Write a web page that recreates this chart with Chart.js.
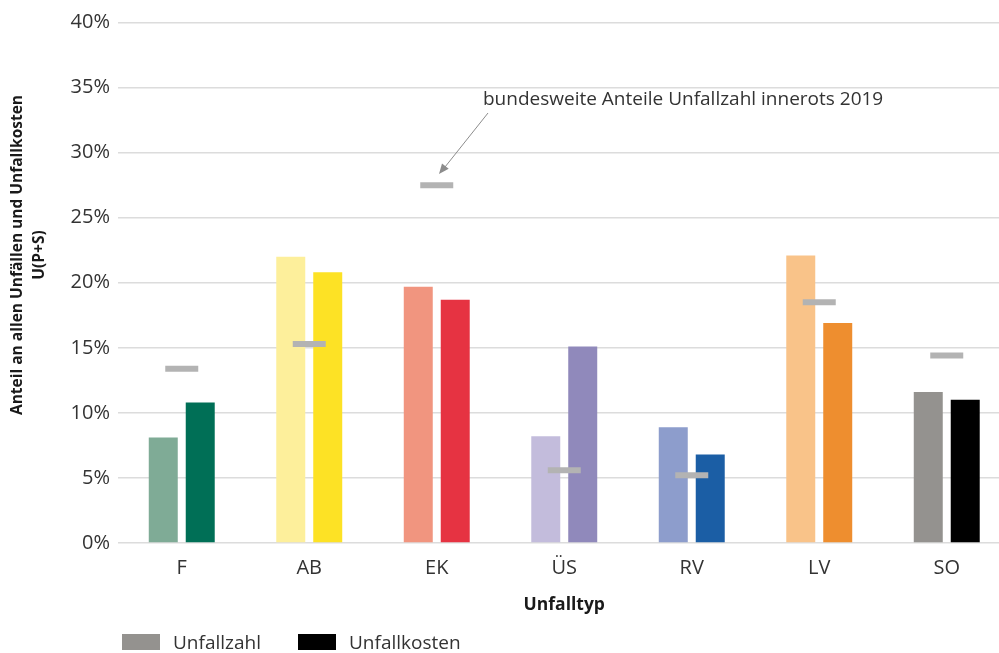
<!DOCTYPE html>
<html>
<head>
<meta charset="utf-8">
<script src="https://cdn.jsdelivr.net/npm/chart.js@4"></script>
<style>
html, body { margin: 0; padding: 0; background: #fff; overflow: hidden; width: 999px; height: 653px; }
#wrap { position: relative; width: 1033px; height: 653px; }
.leg { position: absolute; top: 629px; display: flex; align-items: center; font: 19px "Open Sans", sans-serif; color: #333; }
.leg span.box { display: inline-block; width: 38px; height: 16px; margin-right: 13px; }
</style>
</head>
<body>
<div id="wrap">
  <canvas id="chart1" width="1033" height="653"></canvas>
  <div class="leg" style="left:122px"><span class="box" style="background:#94928f"></span>Unfallzahl</div>
  <div class="leg" style="left:298px"><span class="box" style="background:#000"></span>Unfallkosten</div>
</div>
<script>
const categories = ['F', 'AB', 'EK', 'ÜS', 'RV', 'LV', 'SO']
const unfallzahl = [8.1, 22.0, 19.7, 8.2, 8.9, 22.1, 11.6]
const unfallkosten = [10.8, 20.8, 18.7, 15.1, 6.8, 16.9, 11.0]
const bundesweit = [13.4, 15.3, 27.5, 5.6, 5.2, 18.5, 14.4]

const lightColors = ['#7fab96', '#fdef9b', '#f1957f', '#c3bcdc', '#8d9dcc', '#f9c389', '#94928f']
const darkColors = ['#006f56', '#fde225', '#e63342', '#9089bb', '#1b5ea5', '#ee8e2f', '#000000']

const fontName = '"Open Sans", sans-serif'

// y title and the arrow note, drawn by hand
const extras = {
    id: 'extras',
    afterDraw(chart) {
        const ctx = chart.ctx
        ctx.save()
        ctx.fillStyle = '#1a1a1a'
        ctx.font = 'bold 15.5px ' + fontName
        ctx.textAlign = 'center'
        ctx.textBaseline = 'middle'
        ctx.translate(0, 255)
        ctx.rotate(-Math.PI / 2)
        ctx.fillText('Anteil an allen Unfällen und Unfallkosten', 0, 18)
        ctx.fillText('U(P+S)', 0, 40)
        ctx.restore()

        ctx.save()
        ctx.fillStyle = '#333'
        ctx.font = '19px ' + fontName
        ctx.textBaseline = 'middle'
        ctx.fillText('bundesweite Anteile Unfallzahl innerots 2019', 483, 100)
        ctx.strokeStyle = '#8c8c8c'
        ctx.fillStyle = '#8c8c8c'
        ctx.lineWidth = 1
        ctx.beginPath()
        ctx.moveTo(488, 113)
        ctx.lineTo(445, 167)
        ctx.stroke()
        const ang = Math.atan2(174 - 113, 439 - 488)
        ctx.beginPath()
        ctx.moveTo(439, 174)
        ctx.lineTo(439 - 11 * Math.cos(ang - 0.4), 174 - 11 * Math.sin(ang - 0.4))
        ctx.lineTo(439 - 11 * Math.cos(ang + 0.4), 174 - 11 * Math.sin(ang + 0.4))
        ctx.closePath()
        ctx.fill()
        ctx.restore()
    }
}

const unfallChart = new Chart(
    document.getElementById('chart1'),
    {
        type: 'bar',
        data: {
            labels: categories,
            datasets: [
                {
                    type: 'line',
                    label: 'bundesweit',
                    data: bundesweit,
                    showLine: false,
                    pointStyle: 'line',
                    pointRadius: 16.5,
                    pointHoverRadius: 16.5,
                    pointBorderWidth: 6,
                    pointHoverBorderWidth: 6,
                    borderColor: '#b3b3b3',
                    order: 0
                },
                {
                    label: 'Unfallzahl',
                    data: unfallzahl,
                    backgroundColor: lightColors,
                    categoryPercentage: 0.58,
                    barPercentage: 0.784,
                    order: 1
                },
                {
                    label: 'Unfallkosten',
                    data: unfallkosten,
                    backgroundColor: darkColors,
                    categoryPercentage: 0.58,
                    barPercentage: 0.784,
                    order: 1
                }
            ]
        },
        options: {
            responsive: false,
            animation: false,
            layout: {
                padding: { top: 22, right: 0, bottom: 33, left: 0 }
            },
            scales: {
                x: {
                    grid: { display: false },
                    border: { display: false },
                    ticks: { color: '#333', font: { family: fontName, size: 20 }, padding: 5 },
                    title: {
                        display: true,
                        text: 'Unfalltyp',
                        color: '#1a1a1a',
                        font: { family: fontName, size: 17.5, weight: 'bold' },
                        padding: { top: 4, bottom: 4 }
                    },
                    afterFit: scale => { scale.height = 77 }
                },
                y: {
                    min: 0,
                    max: 40,
                    ticks: {
                        stepSize: 5,
                        color: '#333',
                        font: { family: fontName, size: 20 },
                        padding: 8,
                        callback: v => v + '%'
                    },
                    grid: { color: '#dcdcdc', lineWidth: 1.5, drawTicks: false },
                    border: { display: false },
                    afterFit: scale => { scale.width = 118 }
                }
            },
            plugins: {
                legend: { display: false },
                tooltip: { enabled: false }
            }
        },
        plugins: [extras]
    }
)
</script>
</body>
</html>
